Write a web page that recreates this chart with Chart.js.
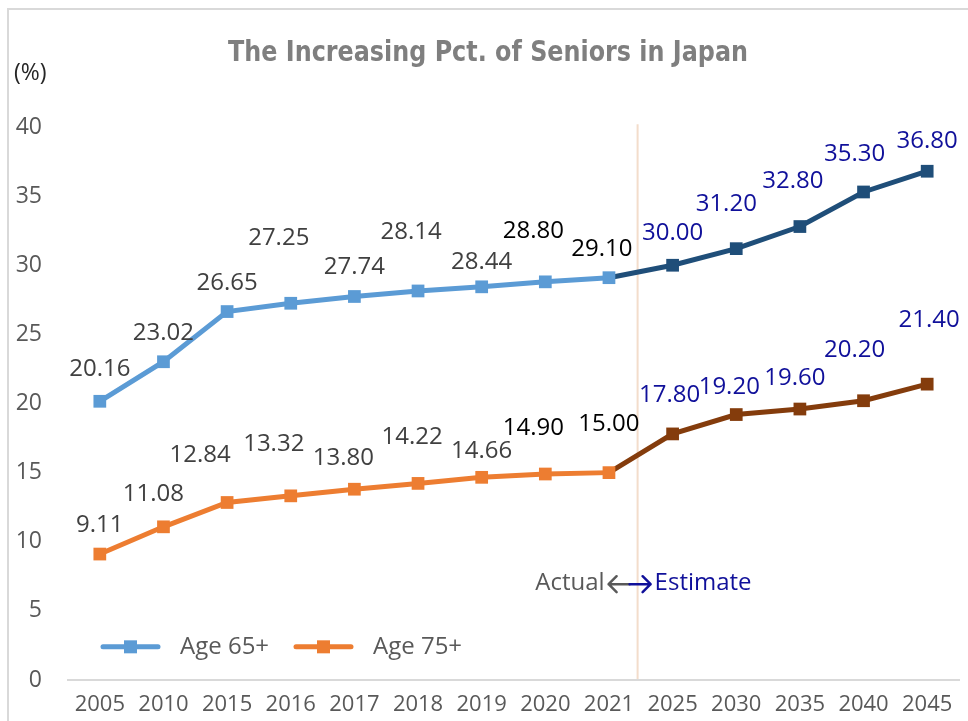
<!DOCTYPE html>
<html>
<head>
<meta charset="utf-8">
<script src="https://cdn.jsdelivr.net/npm/chart.js@4.4.1/dist/chart.umd.min.js"></script>
<style>
  html, body { margin: 0; padding: 0; background: #ffffff; }
  #wrap { position: relative; width: 968px; height: 721px; }
</style>
</head>
<body>
<div id="wrap"><canvas id="c" width="968" height="721"></canvas></div>
<script>
// ---- data ----
const years = ['2005','2010','2015','2016','2017','2018','2019','2020','2021','2025','2030','2035','2040','2045'];
const age65 = [20.16, 23.02, 26.65, 27.25, 27.74, 28.14, 28.44, 28.80, 29.10, 30.00, 31.20, 32.80, 35.30, 36.80];
const age75 = [9.11, 11.08, 12.84, 13.32, 13.80, 14.22, 14.66, 14.90, 15.00, 17.80, 19.20, 19.60, 20.20, 21.40];
const seriesNames = ['Age 65+', 'Age 75+'];
const yTicks = [0, 5, 10, 15, 20, 25, 30, 35, 40];
const firstEstimateIndex = 9;
const chartTitle = 'The Increasing Pct. of Seniors in Japan';
const unitLabel = '(%)';
const actualText = 'Actual';
const estimateText = 'Estimate';

// ---- styles (label placement offsets in pixels) ----
const lab65dx = [0, 0, 0, -12, 0, -7, 0, -12, -7, 0, -10, -7, -9, 0];
const lab65dy = [-32, -29, -28, -65, -29, -59, -25, -51, -29, -32, -45, -45, -38, -30];
const lab75dx = [0, -10, -27, -17, -11, -6, 0, -12, 0, -3, -7, -5, -9, 2];
const lab75dy = [-29, -33, -47, -52, -31, -46, -26, -46, -48, -39, -27, -31, -51, -64];
const blackIdx = [7, 8];

const FONT = '"Open Sans", "Noto Sans", sans-serif';
const C65 = '#5B9BD5', C65E = '#1F4E79';
const C75 = '#ED7D31', C75E = '#843C0C';
const NAVY = '#10109A';
const GRAY = '#595959';

function ptColors(base, est) {
  return years.map((_, i) => i >= firstEstimateIndex ? est : base);
}

function arrow(ctx, x0, x1, y, color) {
  // shaft from x0 to x1, head at x1
  const dir = Math.sign(x1 - x0);
  ctx.strokeStyle = color;
  ctx.lineWidth = 2.5;
  ctx.lineCap = 'round';
  ctx.lineJoin = 'round';
  ctx.beginPath();
  ctx.moveTo(x0, y);
  ctx.lineTo(x1, y);
  ctx.moveTo(x1 - dir * 8, y - 8);
  ctx.lineTo(x1, y);
  ctx.lineTo(x1 - dir * 8, y + 8);
  ctx.stroke();
}

const decor = {
  id: 'decor',
  beforeDraw(chart) {
    const ctx = chart.ctx;
    ctx.save();
    // outer frame (left and top)
    ctx.strokeStyle = '#D9D9D9';
    ctx.lineWidth = 2;
    ctx.beginPath();
    ctx.moveTo(8, 721);
    ctx.lineTo(8, 9);
    ctx.lineTo(968, 9);
    ctx.stroke();
    // divider
    const xs = chart.scales.x, ys = chart.scales.y;
    const dx = xs.getPixelForValue(firstEstimateIndex - 0.55);
    ctx.strokeStyle = '#F3DDCB';
    ctx.lineWidth = 2;
    ctx.beginPath();
    ctx.moveTo(dx, ys.getPixelForValue(40.2));
    ctx.lineTo(dx, ys.getPixelForValue(0));
    ctx.stroke();
    ctx.restore();
  },
  afterDraw(chart) {
    const ctx = chart.ctx;
    const xs = chart.scales.x, ys = chart.scales.y;
    const area = chart.chartArea;
    ctx.save();
    // title (condensed to match the original width)
    ctx.fillStyle = '#7F7F7F';
    ctx.font = 'bold 28px "Liberation Sans Narrow", "DejaVu Sans Condensed", sans-serif';
    ctx.textAlign = 'center';
    ctx.textBaseline = 'middle';
    const tw = ctx.measureText(chartTitle).width;
    const sx = Math.min(1, 520 / tw);
    ctx.save();
    ctx.translate(488, 53);
    ctx.scale(sx, 1.04);
    ctx.fillText(chartTitle, 0, 0);
    ctx.restore();
    // unit
    ctx.fillStyle = '#262626';
    ctx.font = '23px ' + FONT;
    ctx.textAlign = 'left';
    ctx.fillText(unitLabel, 14, 73);

    // data labels
    ctx.font = '24px ' + FONT;
    ctx.textAlign = 'center';
    ctx.textBaseline = 'middle';
    const sets = [[0, lab65dx, lab65dy], [1, lab75dx, lab75dy]];
    sets.forEach(([di, ddx, ddy]) => {
      const meta = chart.getDatasetMeta(di);
      const vals = chart.data.datasets[di].data;
      meta.data.forEach((pt, i) => {
        let col = '#404040';
        if (i >= firstEstimateIndex) col = NAVY;
        else if (blackIdx.includes(i)) col = '#000000';
        ctx.fillStyle = col;
        ctx.fillText(vals[i].toFixed(2), pt.x + ddx[i], pt.y + ddy[i]);
      });
    });

    // Actual <-> Estimate
    const dx = xs.getPixelForValue(firstEstimateIndex - 0.55);
    const ty = ys.getPixelForValue(7.0);
    ctx.font = '24px ' + FONT;
    ctx.textBaseline = 'middle';
    ctx.textAlign = 'right';
    ctx.fillStyle = GRAY;
    ctx.fillText(actualText, dx - 33, ty);
    ctx.textAlign = 'left';
    ctx.fillStyle = NAVY;
    ctx.fillText(estimateText, dx + 17, ty);
    arrow(ctx, dx - 8, dx - 29, ty + 1, GRAY);
    arrow(ctx, dx - 8, dx + 13, ty + 1, NAVY);

    // legend inside plot
    const ly = ys.getPixelForValue(2.4);
    const items = [[0, C65, area.left + 35], [1, C75, area.left + 228]];
    items.forEach(([di, col, x0]) => {
      ctx.strokeStyle = col;
      ctx.lineWidth = 5;
      ctx.lineCap = 'round';
      ctx.beginPath();
      ctx.moveTo(x0, ly);
      ctx.lineTo(x0 + 55, ly);
      ctx.stroke();
      ctx.fillStyle = col;
      ctx.fillRect(x0 + 27.5 - 6.5, ly - 6.5, 13, 13);
      ctx.fillStyle = GRAY;
      ctx.textAlign = 'left';
      ctx.font = '24px ' + FONT;
      ctx.fillText(chart.data.datasets[di].label, x0 + 77, ly);
    });
    ctx.restore();
  }
};

new Chart(document.getElementById('c'), {
  type: 'line',
  data: {
    labels: years,
    datasets: [
      {
        label: seriesNames[0],
        data: age65,
        borderColor: C65,
        borderWidth: 5,
        pointStyle: 'rect',
        pointRadius: 9,
        pointBorderWidth: 0,
        pointBackgroundColor: ptColors(C65, C65E),
        pointBorderColor: ptColors(C65, C65E),
        segment: { borderColor: ctx => ctx.p1DataIndex >= firstEstimateIndex ? C65E : C65 },
        tension: 0
      },
      {
        label: seriesNames[1],
        data: age75,
        borderColor: C75,
        borderWidth: 5,
        pointStyle: 'rect',
        pointRadius: 9,
        pointBorderWidth: 0,
        pointBackgroundColor: ptColors(C75, C75E),
        pointBorderColor: ptColors(C75, C75E),
        segment: { borderColor: ctx => ctx.p1DataIndex >= firstEstimateIndex ? C75E : C75 },
        tension: 0
      }
    ]
  },
  options: {
    responsive: false,
    animation: false,
    devicePixelRatio: 1,
    layout: { padding: { top: 127, right: 8, left: 0, bottom: 0 } },
    plugins: { legend: { display: false }, title: { display: false }, tooltip: { enabled: false } },
    scales: {
      x: {
        offset: true,
        grid: { display: false, drawTicks: false },
        border: { display: true, color: '#D9D9D9', width: 2 },
        ticks: { color: GRAY, font: { family: FONT, size: 22 }, padding: 12, maxRotation: 0, autoSkip: false },
        afterFit: s => { s.height = 41; }
      },
      y: {
        min: 0, max: 40,
        afterBuildTicks: s => { s.ticks = yTicks.map(v => ({ value: v })); },
        grid: { display: false, drawTicks: false },
        border: { display: false },
        ticks: { color: GRAY, font: { family: FONT, size: 23 }, padding: 26 },
        afterFit: s => { s.width = 68; }
      }
    }
  },
  plugins: [decor]
});
</script>
</body>
</html>
